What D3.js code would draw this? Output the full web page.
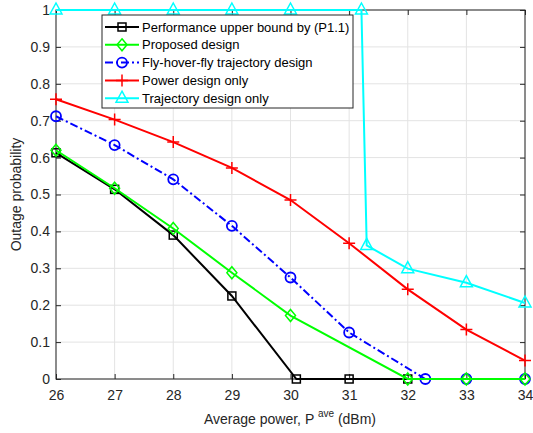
<!DOCTYPE html>
<html><head><meta charset="utf-8">
<script src="https://cdn.jsdelivr.net/npm/d3@7"></script>
<style>body{margin:0;background:#fff;}svg{display:block;font-family:"Liberation Sans",Arial,sans-serif;}</style>
</head><body><svg id="c" width="533" height="433"></svg>
<script>
const xTicks=[26,27,28,29,30,31,32,33,34];
const yTicks=[0,0.1,0.2,0.3,0.4,0.5,0.6,0.7,0.8,0.9,1];
const boundX=[26,27,28,29,30.1,31,32];
const boundY=[0.613,0.514,0.39,0.225,0,0,0];
const propX=[26,27,28,29,30,32,33,34];
const propY=[0.62,0.517,0.408,0.288,0.172,0,0,0];
const fhfX=[26,27,28,29,30,31,32.3,33,34];
const fhfY=[0.712,0.634,0.541,0.415,0.275,0.126,0,0,0];
const powX=[26,27,28,29,30,31,32,33,34];
const powY=[0.758,0.703,0.642,0.572,0.485,0.368,0.243,0.134,0.05];
const trajX=[26,27,28,29,30,31.21,31.3,32,33,34];
const trajY=[1,1,1,1,1,1,0.362,0.299,0.261,0.206];
const names=["Performance upper bound by (P1.1)","Proposed design","Fly-hover-fly trajectory design","Power design only","Trajectory design only"];

const svg=d3.select("#c");
const L=56,R=525,T=10,B=379;
const x=d3.scaleLinear().domain([26,34]).range([L,R]);
const y=d3.scaleLinear().domain([0,1]).range([B,T]);

// grid
const g=svg.append("g");
g.selectAll(".gx").data(xTicks).join("line").attr("x1",d=>x(d)).attr("x2",d=>x(d)).attr("y1",T).attr("y2",B).attr("stroke","#e3e3e3");
g.selectAll(".gy").data(yTicks).join("line").attr("y1",d=>y(d)).attr("y2",d=>y(d)).attr("x1",L).attr("x2",R).attr("stroke","#e3e3e3");
// box
svg.append("rect").attr("x",L).attr("y",T).attr("width",R-L).attr("height",B-T).attr("fill","none").attr("stroke","#262626").attr("stroke-width",1);
// axes
const ax=svg.append("g").attr("transform",`translate(0,${B})`).call(d3.axisBottom(x).tickValues(xTicks).tickFormat(d3.format("d")).tickSizeInner(-5).tickSizeOuter(0).tickPadding(11));
const ax2=svg.append("g").attr("transform",`translate(0,${T})`).call(d3.axisTop(x).tickValues(xTicks).tickFormat("").tickSizeInner(-5).tickSizeOuter(0));
const ay=svg.append("g").attr("transform",`translate(${L},0)`).call(d3.axisLeft(y).tickValues(yTicks).tickFormat(d=>d===0?"0":d===1?"1":d3.format(".1f")(d)).tickSizeInner(-5).tickSizeOuter(0).tickPadding(6));
const ay2=svg.append("g").attr("transform",`translate(${R},0)`).call(d3.axisRight(y).tickValues(yTicks).tickFormat("").tickSizeInner(-5).tickSizeOuter(0));
[ax,ax2,ay,ay2].forEach(a=>{a.select(".domain").remove();a.selectAll("line").attr("stroke","#262626");a.selectAll("text").attr("fill","#262626").style("font-size","14px").style("font-family","Liberation Sans, Arial, sans-serif");});

svg.append("text").attr("transform",`translate(21,${(T+B)/2}) rotate(-90)`).attr("text-anchor","middle").attr("fill","#262626").style("font-size","14px").text("Outage probability");
const xl=svg.append("text").attr("x",290).attr("y",424).attr("text-anchor","middle").attr("fill","#262626").style("font-size","14px");
xl.append("tspan").text("Average power, P ");
xl.append("tspan").attr("dy",-7).style("font-size","10px").text("ave");
xl.append("tspan").attr("dy",7).text(" (dBm)");

function marker(sel,type,color){
  if(type==="square") sel.append("rect").attr("x",-4).attr("y",-4).attr("width",8).attr("height",8).attr("fill","none").attr("stroke",color).attr("stroke-width",1.5);
  else if(type==="diamond") sel.append("path").attr("d","M0,-6L5,0L0,6L-5,0Z").attr("fill","none").attr("stroke",color).attr("stroke-width",1.5);
  else if(type==="circle") sel.append("circle").attr("r",5).attr("fill","none").attr("stroke",color).attr("stroke-width",1.8);
  else if(type==="plus") sel.append("path").attr("d","M-6,0H6M0,-6V6").attr("fill","none").attr("stroke",color).attr("stroke-width",1.5);
  else if(type==="tri") sel.append("path").attr("d","M0,-7L6,4L-6,4Z").attr("fill","none").attr("stroke",color).attr("stroke-width",1.5);
}
const series=[
 {xs:boundX,ys:boundY,c:"#000000",m:"square",dash:null},
 {xs:propX,ys:propY,c:"#00ff00",m:"diamond",dash:null},
 {xs:fhfX,ys:fhfY,c:"#0000ff",m:"circle",dash:"8,3,2,3"},
 {xs:powX,ys:powY,c:"#ff0000",m:"plus",dash:null},
 {xs:trajX,ys:trajY,c:"#00ffff",m:"tri",dash:null}
];
const order=[4,3,2,0,1];
const line=d3.line().x(d=>x(d[0])).y(d=>y(d[1]));
order.forEach(i=>{
  const s=series[i];
  const pts=s.xs.map((v,k)=>[v,s.ys[k]]);
  svg.append("path").attr("d",line(pts)).attr("fill","none").attr("stroke",s.c).attr("stroke-width",2).attr("stroke-dasharray",s.dash);
  pts.forEach(p=>{marker(svg.append("g").attr("transform",`translate(${x(p[0])},${y(p[1])})`),s.m,s.c);});
});

// legend
const lg=svg.append("g");
lg.append("rect").attr("x",102).attr("y",15).attr("width",251).attr("height",93).attr("fill","#fff").attr("stroke","#262626");
series.forEach((s,i)=>{
  const yy=27+i*17.8;
  lg.append("line").attr("x1",105).attr("x2",139).attr("y1",yy).attr("y2",yy).attr("stroke",s.c).attr("stroke-width",2).attr("stroke-dasharray",s.dash);
  marker(lg.append("g").attr("transform",`translate(122,${yy})`),s.m,s.c);
  lg.append("text").attr("x",142).attr("y",yy+4.5).attr("fill","#000").style("font-size","13px").text(names[i]);
});
</script></body></html>
